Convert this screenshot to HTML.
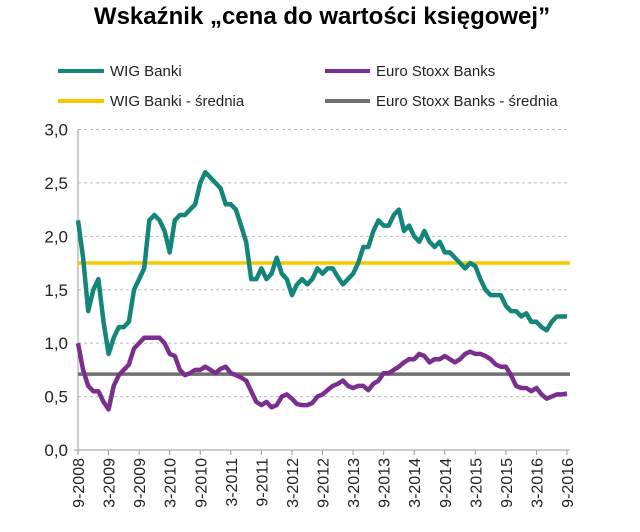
<!DOCTYPE html>
<html><head><meta charset="utf-8"><style>
body{margin:0;background:#fff;font-family:"Liberation Sans",Arial,sans-serif}
svg{display:block}
</style></head><body>
<svg id="c" width="640" height="532">
<text x="322" y="24" text-anchor="middle" font-size="24" font-weight="bold" fill="#000">Wskaźnik „cena do wartości księgowej”</text>
<g font-size="15" fill="#222">
<line x1="58" y1="71" x2="104" y2="71" stroke="#13857a" stroke-width="4"/><text x="110" y="76">WIG Banki</text>
<line x1="325" y1="71" x2="370" y2="71" stroke="#7a2e8e" stroke-width="4"/><text x="376" y="76">Euro Stoxx Banks</text>
<line x1="58" y1="101" x2="104" y2="101" stroke="#f5c800" stroke-width="4"/><text x="110" y="106">WIG Banki - średnia</text>
<line x1="325" y1="101" x2="370" y2="101" stroke="#707070" stroke-width="4"/><text x="376" y="106">Euro Stoxx Banks - średnia</text>
</g>
<g id="plot"></g>
</svg>
<script>
const xLabels=["9-2008","3-2009","9-2009","3-2010","9-2010","3-2011","9-2011","3-2012","9-2012","3-2013","9-2013","3-2014","9-2014","3-2015","9-2015","3-2016","9-2016"];
const yTicks=[0,0.5,1,1.5,2,2.5,3];
const wig=[2.15,1.8,1.3,1.5,1.6,1.2,0.9,1.05,1.15,1.15,1.2,1.5,1.6,1.7,2.15,2.2,2.15,2.05,1.85,2.15,2.2,2.2,2.25,2.3,2.5,2.6,2.55,2.5,2.45,2.3,2.3,2.25,2.1,1.95,1.6,1.6,1.7,1.6,1.65,1.8,1.65,1.6,1.45,1.55,1.6,1.55,1.6,1.7,1.65,1.7,1.7,1.62,1.55,1.6,1.65,1.75,1.9,1.9,2.05,2.15,2.1,2.1,2.2,2.25,2.05,2.1,2.0,1.95,2.05,1.95,1.9,1.95,1.85,1.85,1.8,1.75,1.7,1.75,1.72,1.6,1.5,1.45,1.45,1.45,1.35,1.3,1.3,1.25,1.28,1.2,1.2,1.15,1.12,1.2,1.25,1.25,1.25];
const stoxx=[1.0,0.75,0.6,0.55,0.55,0.45,0.38,0.6,0.7,0.75,0.8,0.95,1.0,1.05,1.05,1.05,1.05,1.0,0.9,0.88,0.75,0.7,0.72,0.75,0.75,0.78,0.75,0.72,0.76,0.78,0.72,0.7,0.68,0.65,0.55,0.45,0.42,0.45,0.4,0.42,0.5,0.52,0.48,0.43,0.42,0.42,0.44,0.5,0.52,0.56,0.6,0.62,0.65,0.6,0.58,0.6,0.6,0.56,0.62,0.65,0.72,0.72,0.75,0.78,0.82,0.85,0.85,0.9,0.88,0.82,0.85,0.85,0.88,0.85,0.82,0.85,0.9,0.92,0.9,0.9,0.88,0.85,0.8,0.78,0.78,0.7,0.6,0.58,0.58,0.55,0.58,0.52,0.48,0.5,0.52,0.52,0.53];
const wigAvg=[1.75];
const stoxxAvg=[0.71];
const X0=78,X1=567,Y0=450,Y3=129.5,XR=570;
const y=v=>Y0+(Y3-Y0)*v/3;
const xm=i=>X0+(X1-X0)*i/96;
const NS="http://www.w3.org/2000/svg";
const g=document.getElementById('plot');
function mk(t,a){const e=document.createElementNS(NS,t);for(const k in a)e.setAttribute(k,a[k]);g.appendChild(e);return e;}
yTicks.forEach(v=>{
 if(v>0){const l=mk('line',{x1:X0,x2:XR,y1:y(v),y2:y(v),stroke:'#bbb','stroke-dasharray':'3,3'});
 
 }
 const t=mk('text',{x:X0-10,y:y(v)+6,'text-anchor':'end','font-size':'17',fill:'#222'});
 t.textContent=v.toFixed(1).replace('.',',');
 
 
});
const ax=mk('line',{x1:X0,x2:X0,y1:y(3),y2:Y0,stroke:'#999'});


const bx=mk('line',{x1:X0-4,x2:XR,y1:Y0,y2:Y0,stroke:'#999'});


xLabels.forEach((s,i)=>{
 const xx=X0+(X1-X0)*i/(xLabels.length-1);
 mk('line',{x1:xx,x2:xx,y1:Y0,y2:Y0+5,stroke:'#999'});
 const t=mk('text',{x:0,y:0,'text-anchor':'end','font-size':'16',fill:'#222',transform:`translate(${xx+6},${Y0+8}) rotate(-90)`});
 t.textContent=s;
 
 
});
const a1=mk('line',{x1:X0,x2:XR,y1:y(wigAvg[0]),y2:y(wigAvg[0]),stroke:'#f5c800','stroke-width':3.5});


const a2=mk('line',{x1:X0,x2:XR,y1:y(stoxxAvg[0]),y2:y(stoxxAvg[0]),stroke:'#707070','stroke-width':3.5});


function series(d,c,n){
 const p=mk('path',{d:d.map((v,i)=>(i?'L':'M')+xm(i).toFixed(1)+','+y(v).toFixed(1)).join(''),fill:'none',stroke:c,'stroke-width':4.5,'stroke-linejoin':'round'});
 
 
}
series(wig,'#13857a','wig-banki-line');
series(stoxx,'#7a2e8e','euro-stoxx-line');
</script>
</body></html>
